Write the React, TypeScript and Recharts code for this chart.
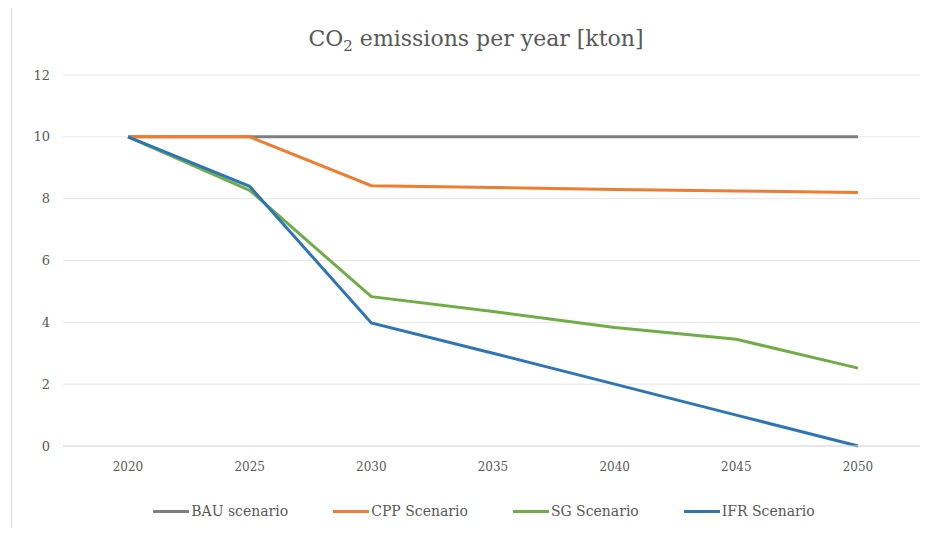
import { LineChart, Line, XAxis, YAxis, CartesianGrid, Legend } from "recharts";

const years = ["2020", "2025", "2030", "2035", "2040", "2045", "2050"];
const bau = [10, 10, 10, 10, 10, 10, 10];
const cpp = [10, 10, 8.42, 8.36, 8.3, 8.25, 8.2];
const sg = [10, 8.27, 4.83, 4.35, 3.83, 3.45, 2.52];
const ifr = [10, 8.4, 3.98, 3.0, 2.0, 1.0, 0];
const yTicks = [0, 2, 4, 6, 8, 10, 12];
// category boundaries, where the small x tick marks sit
const edgeTicks = [-0.5, 0.5, 1.5, 2.5, 3.5, 4.5, 5.5, 6.5];

const series = [
  { key: "bau", name: "BAU scenario", color: "#7f7f7f" },
  { key: "cpp", name: "CPP Scenario", color: "#ed7d31" },
  { key: "sg", name: "SG Scenario", color: "#70ad47" },
  { key: "ifr", name: "IFR Scenario", color: "#2e75b6" },
];

const data = years.map((year, i) => ({
  year,
  bau: bau[i],
  cpp: cpp[i],
  sg: sg[i],
  ifr: ifr[i],
}));

const font = "'DejaVu Serif', 'Liberation Serif', serif";

function LegendContent() {
  return (
    <div
      style={{
        display: "flex",
        justifyContent: "center",
        gap: 45,
        paddingTop: 27,
        paddingLeft: 40,
        fontFamily: font,
        fontSize: 14,
        color: "#595959",
      }}
    >
      {series.map((s) => (
        <div key={s.key} style={{ display: "flex", alignItems: "center" }}>
          <span style={{ width: 36, height: 3, background: s.color, display: "inline-block", marginRight: 2 }} />
          <span>{s.name}</span>
        </div>
      ))}
    </div>
  );
}

export default function App() {
  return (
    <div style={{ position: "relative", width: 936, height: 520, background: "#fff" }}>
      <div
        style={{
          position: "absolute",
          left: 3,
          top: -8,
          width: 960,
          height: 540,
          border: "1px solid #d9d9d9",
          boxSizing: "border-box",
          pointerEvents: "none",
        }}
      />
      <div
        style={{
          position: "absolute",
          top: 18,
          left: 0,
          width: 936,
          textAlign: "center",
          fontFamily: font,
          fontSize: 22,
          color: "#595959",
        }}
      >
        CO<sub style={{ fontSize: 15 }}>2</sub> emissions per year [kton]
      </div>
      <LineChart width={936} height={520} data={data} margin={{ top: 67, right: 24, bottom: 12, left: 0 }}>
        <CartesianGrid vertical={false} stroke="#e6e6e6" />
        <XAxis
          xAxisId="edges"
          type="number"
          domain={[-0.5, 6.5]}
          ticks={edgeTicks}
          padding={{ left: 4, right: 1 }}
          axisLine={false}
          tickFormatter={() => ""}
          tickLine={{ stroke: "#d0d0d0" }}
          tickSize={5}
          height={0}
        />
        <XAxis
          dataKey="year"
          padding={{ left: 65, right: 62 }}
          axisLine={{ stroke: "#d9d9d9" }}
          tickLine={false}
          tick={{ fill: "#595959", fontSize: 12, fontFamily: font }}
          tickMargin={10}
          height={30}
        />
        <YAxis
          domain={[0, 12]}
          ticks={yTicks}
          width={55}
          axisLine={false}
          tickLine={false}
          tick={{ fill: "#595959", fontSize: 13, fontFamily: font }}
          tickMargin={7}
        />
        <Legend verticalAlign="bottom" height={40} content={<LegendContent />} />
        {series.map((s) => (
          <Line
            key={s.key}
            type="linear"
            dataKey={s.key}
            name={s.name}
            stroke={s.color}
            strokeWidth={3}
            dot={false}
            isAnimationActive={false}
          />
        ))}
      </LineChart>
    </div>
  );
}
